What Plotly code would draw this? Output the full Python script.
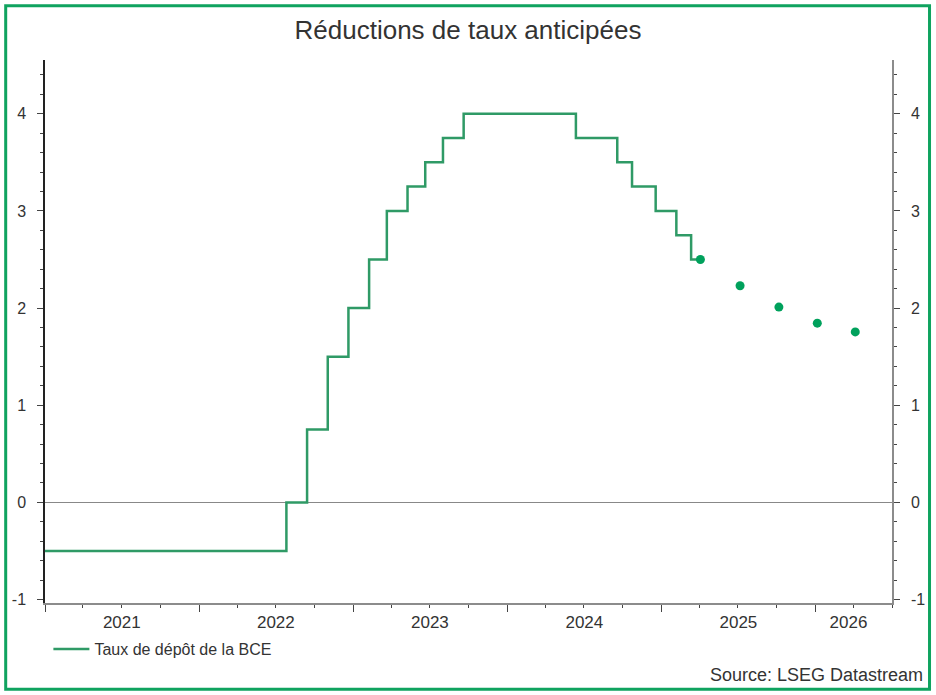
import pandas as pd
import plotly.graph_objects as go

# Taux de dépôt BCE (dates de changement)
rate_dates = ["2021-01-01", "2022-07-27", "2022-09-14", "2022-11-02", "2022-12-21",
              "2023-02-08", "2023-03-22", "2023-05-10", "2023-06-21", "2023-08-02",
              "2023-09-20", "2024-06-12", "2024-09-18", "2024-10-23", "2024-12-18",
              "2025-02-05", "2025-03-12", "2025-03-28"]
rate_values = [-0.5, 0.0, 0.75, 1.5, 2.0,
               2.5, 3.0, 3.25, 3.5, 3.75,
               4.0, 3.75, 3.5, 3.25, 3.0,
               2.75, 2.5, 2.5]

# anticipations du marché
fc_dates = ["2025-04-03", "2025-07-06", "2025-10-06", "2026-01-05", "2026-04-05"]
fc_values = [2.50, 2.23, 2.01, 1.845, 1.755]

year_labels = ["2021", "2022", "2023", "2024", "2025", "2026"]
label_pos = ["2021-07-02", "2022-07-02", "2023-07-02", "2024-07-02", "2025-07-02", "2026-03-20"]
year_ticks = ["2021-01-01", "2022-01-01", "2023-01-01", "2024-01-01", "2025-01-01", "2026-01-01"]

y_ticks = [-1, 0, 1, 2, 3, 4]
y_labels = ["-1", "0", "1", "2", "3", "4"]

x_range = ["2021-01-01", "2026-07-01"]
y_range = [-1.035, 4.553]

line_col = "#2f9a66"
dot_col = "#00a15c"
txt_col = "#333333"
font = "Liberation Sans, Arial, sans-serif"

fig = go.Figure()
fig.add_trace(go.Scatter(x=pd.to_datetime(rate_dates), y=rate_values, mode="lines",
                         line=dict(color=line_col, width=2.5, shape="hv"),
                         name="Taux de dépôt de la BCE"))
fig.add_trace(go.Scatter(x=pd.to_datetime(fc_dates), y=fc_values, mode="markers",
                         marker=dict(color=dot_col, size=9), showlegend=False,
                         xaxis="x2", yaxis="y2"))

quarters = pd.date_range("2021-01-01", "2026-07-01", freq="QS")

yax = dict(range=y_range, tickmode="array", tickvals=y_ticks, ticktext=y_labels,
           ticks="outside", ticklen=6, tickcolor="#444", showgrid=False,
           ticklabelstandoff=8, tickfont=dict(size=16, color=txt_col), automargin=False,
           minor=dict(dtick=0.2, tick0=0, ticks="outside", ticklen=3, tickcolor="#444"))

fig.update_layout(
    width=936, height=695,
    margin=dict(l=45, r=43.5, t=60, b=92),
    paper_bgcolor="white", plot_bgcolor="white",
    font=dict(family=font, color=txt_col, size=16),
    title=dict(text="Réductions de taux anticipées", x=0.5, xref="container",
               y=1 - 30 / 695, yref="container", yanchor="middle", xanchor="center",
               font=dict(size=26, color=txt_col)),
    xaxis=dict(range=x_range, type="date", tickmode="array", tickvals=year_ticks,
               showticklabels=False, ticks="outside", ticklen=7, tickcolor="#444",
               showline=True, linecolor="#8c8c8c", linewidth=1.5, showgrid=False,
               automargin=False,
               minor=dict(tickmode="array", tickvals=list(quarters), ticks="outside",
                          ticklen=3, tickcolor="#444")),
    xaxis2=dict(range=x_range, type="date", overlaying="x", side="bottom", anchor="y",
                tickmode="array", tickvals=label_pos, ticktext=year_labels,
                ticks="", showline=False, showgrid=False, ticklabelstandoff=7,
                automargin=False, tickfont=dict(size=17, color=txt_col)),
    yaxis=dict(yax, showline=True, linecolor="#222", linewidth=1.5,
               zeroline=True, zerolinecolor="#888", zerolinewidth=1),
    yaxis2=dict(yax, overlaying="y", side="right", anchor="x",
                showline=True, linecolor="#8c8c8c", linewidth=1.5, zeroline=False),
    legend=dict(orientation="h", x=0.004, xanchor="left", y=-0.085, yanchor="middle",
                itemwidth=36, font=dict(size=16, color=txt_col), bgcolor="rgba(0,0,0,0)"),
    showlegend=True,
)

fig.add_annotation(text="Source: LSEG Datastream", xref="paper", yref="paper",
                   x=1.0384, y=-0.1332, xanchor="right", yanchor="middle",
                   showarrow=False, font=dict(size=18, color=txt_col))

# cadre vert
fig.add_shape(type="rect", xref="paper", yref="paper",
              x0=-0.0464, x1=1.0443, y0=-0.159, y1=1.1,
              line=dict(color="#0fa35f", width=3), layer="above")

fig.write_html("out.html", config={"displayModeBar": False},
               post_script="document.body.style.margin='0';")
